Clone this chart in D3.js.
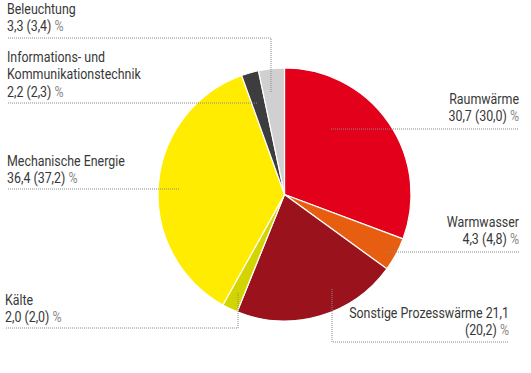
<!DOCTYPE html>
<html>
<head>
<meta charset="utf-8">
<script src="https://cdn.jsdelivr.net/npm/d3@7"></script>
<style>
    body { margin: 0; background: #fff; }
    .label { font-family: "Roboto", sans-serif; font-size: 13.8px; fill: #383838; }
    .pct { fill: #8a8a8a; }
    .leader { fill: none; stroke: #8a8a8a; stroke-width: 1; stroke-dasharray: 1,1; }
</style>
</head>
<body>
<script>
//chart data, clockwise from 12 o'clock
var categories = ["Raumwärme", "Warmwasser", "Sonstige Prozesswärme", "Kälte",
    "Mechanische Energie", "Informations- und Kommunikationstechnik", "Beleuchtung"];
var values = [30.7, 4.3, 21.1, 2.0, 36.4, 2.2, 3.3];
var previous = ["30,0", "4,8", "20,2", "2,0", "37,2", "2,3", "3,4"];
var colors = ["#e2001a", "#e85e10", "#9a131c", "#d3d500", "#ffec00", "#3d3d3f", "#d0d0d1"];

//label text lines, leader line path and anchor for each slice
var labelLines = [
    ["Raumwärme"],
    ["Warmwasser"],
    ["Sonstige Prozesswärme 21,1"],
    ["Kälte"],
    ["Mechanische Energie"],
    ["Informations- und", "Kommunikationstechnik"],
    ["Beleuchtung"]
];
var labelLayout = [
    { x: 519, y: 104, anchor: "end", line: [[331, 129], [519, 129]] },
    { x: 519, y: 227, anchor: "end", line: [[386, 252], [519, 252]] },
    { x: 509, y: 318, anchor: "end", line: [[332, 289], [332, 342], [509, 342]], split: true },
    { x: 5, y: 305, anchor: "start", line: [[238, 293], [238, 328], [5, 328]] },
    { x: 7, y: 166, anchor: "start", line: [[179, 189], [7, 189]] },
    { x: 7, y: 62, anchor: "start", line: [[257, 103], [7, 103]] },
    { x: 7, y: 14, anchor: "start", line: [[271, 92], [271, 38], [7, 38]] }
];

var width = 531, height = 373;
var cx = 284.5, cy = 194.5, radius = 126.5;
var squeeze = 0.9; //narrow the font to mimic the condensed original

var svg = d3.select("body")
    .append("svg")
    .attr("width", width)
    .attr("height", height);

var pie = d3.pie().sort(null).value(function (d) { return d; });
var arc = d3.arc().innerRadius(0).outerRadius(radius);

var arcs = pie(values);

//slices
svg.append("g")
    .attr("transform", "translate(" + cx + "," + cy + ")")
    .selectAll(".slice")
    .data(arcs)
    .enter()
    .append("path")
    .attr("class", "slice")
    .attr("d", arc)
    .style("fill", function (d, i) { return colors[i]; })
    .style("stroke", "#fff")
    .style("stroke-width", 1.2);

//leader lines
var line = d3.line();
svg.selectAll(".leader")
    .data(labelLayout)
    .enter()
    .append("path")
    .attr("class", "leader")
    .attr("d", function (d) { return line(d.line); });

//labels
var lineHeight = 17.5;
labelLayout.forEach(function (l, i) {
    var t = svg.append("g")
        .attr("transform", "translate(" + l.x + "," + l.y + ") scale(" + squeeze + ",1)")
        .append("text")
        .attr("class", "label")
        .attr("text-anchor", l.anchor);
    labelLines[i].forEach(function (s, j) {
        t.append("tspan").attr("x", 0).attr("dy", j === 0 ? 0 : lineHeight).text(s);
    });
    var valueText = l.split ? "(" + previous[i] + ") "
        : d3.format(".1f")(values[i]).replace(".", ",") + " (" + previous[i] + ") ";
    t.append("tspan").attr("x", 0).attr("dy", lineHeight).text(valueText);
    t.append("tspan").attr("class", "pct").text("%");
});
</script>
</body>
</html>
